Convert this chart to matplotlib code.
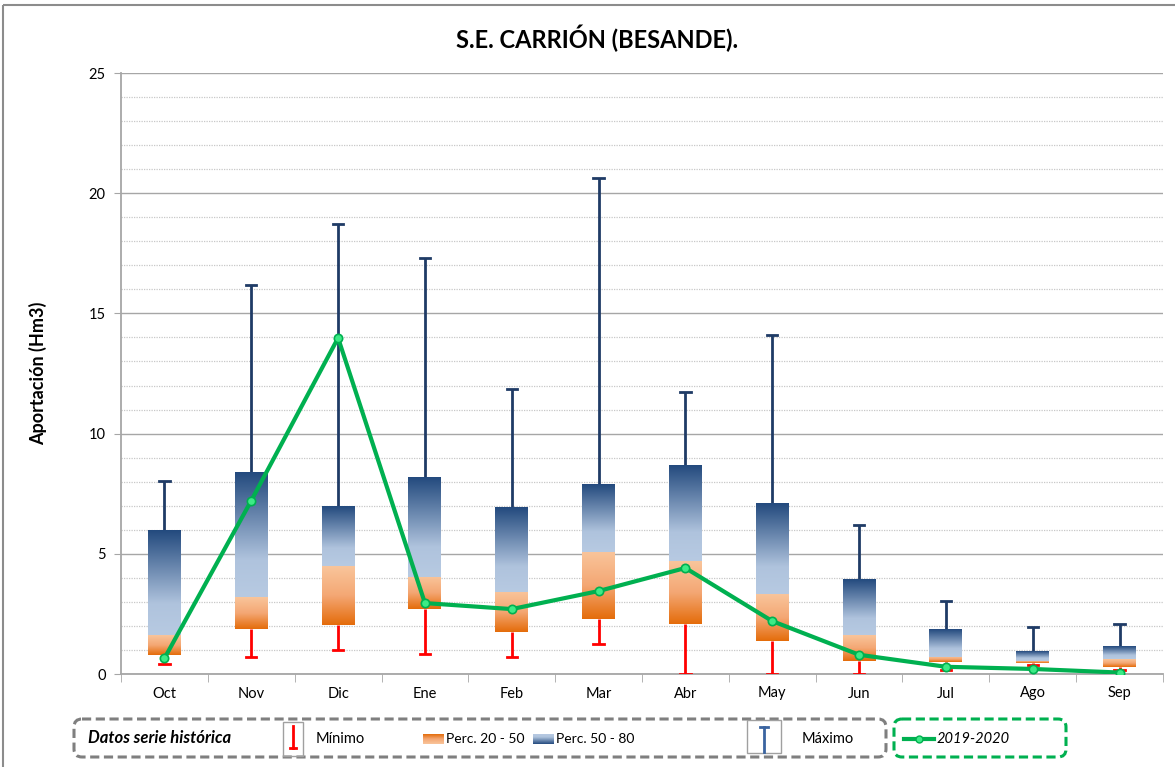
import numpy as np
import matplotlib.pyplot as plt
from matplotlib.colors import LinearSegmentedColormap
from matplotlib.patches import FancyBboxPatch, Rectangle
from matplotlib.lines import Line2D

plt.rcParams['font.family'] = ['Lato', 'DejaVu Sans']

meses = ["Oct", "Nov", "Dic", "Ene", "Feb", "Mar", "Abr", "May", "Jun", "Jul", "Ago", "Sep"]
minimo = [0.40, 0.69, 1.00, 0.85, 0.69, 1.25, 0.0, 0.0, 0.0, 0.17, 0.37, 0.17]
perc20 = [0.80, 1.86, 2.05, 2.69, 1.75, 2.30, 2.09, 1.39, 0.55, 0.50, 0.44, 0.29]
perc50 = [1.62, 3.19, 4.48, 4.03, 3.43, 5.09, 4.69, 3.33, 1.62, 0.72, 0.55, 0.62]
perc80 = [5.98, 8.37, 6.96, 8.17, 6.93, 7.89, 8.68, 7.10, 3.94, 1.87, 0.94, 1.12]
maximo = [8.04, 16.2, 18.72, 17.3, 11.86, 20.63, 11.73, 14.1, 6.18, 3.04, 1.96, 2.07]
serie_2019_2020 = [0.65, 7.21, 13.98, 2.95, 2.70, 3.45, 4.41, 2.20, 0.80, 0.30, 0.21, 0.06]

cmap_nar = LinearSegmentedColormap.from_list("nar", ["#E46C0A", "#F4A774", "#F9C59B"])
cmap_azul = LinearSegmentedColormap.from_list("azul", [(0, "#B7CAE2"), (0.3, "#AFC3DD"), (1, "#234A7E")])
grad = np.linspace(0, 1, 256).reshape(-1, 1)

fig = plt.figure(figsize=(11.75, 7.67), dpi=100)
ax = fig.add_axes([121 / 1175, 1 - 674 / 767, (1163 - 121) / 1175, (674 - 73) / 767])

x = np.arange(len(meses))
w = 0.38
cap = 0.06
for i in x:
    ax.plot([i, i], [perc20[i], minimo[i]], color="#FF0000", lw=2, zorder=3, solid_capstyle="butt")
    ax.plot([i - cap, i + cap], [minimo[i], minimo[i]], color="#FF0000", lw=2, zorder=3)
    ax.plot([i, i], [perc80[i], maximo[i]], color="#1F3B66", lw=2, zorder=3, solid_capstyle="butt")
    ax.plot([i - cap, i + cap], [maximo[i], maximo[i]], color="#1F3B66", lw=2, zorder=3)
    ax.imshow(grad, cmap=cmap_nar, origin="lower", aspect="auto", zorder=4,
              extent=[i - w / 2, i + w / 2, perc20[i], perc50[i]])
    ax.imshow(grad, cmap=cmap_azul, origin="lower", aspect="auto", zorder=4,
              extent=[i - w / 2, i + w / 2, perc50[i], perc80[i]])

ax.plot(x, serie_2019_2020, color="#00B050", lw=3, marker="o", ms=6,
        mfc="#3DEB86", mec="#00B050", mew=1.2, zorder=6)

ax.set_xlim(-0.5, len(meses) - 0.5)
ax.set_ylim(0, 25)
ax.set_yticks(range(0, 26, 5))
ax.set_yticks(range(0, 26), minor=True)
ax.set_xticks(x)
ax.set_xticklabels(meses, fontsize=10.5)
ax.set_xticks(np.arange(-0.5, len(meses)), minor=True)
ax.tick_params(axis="x", which="major", length=0, pad=9)
ax.tick_params(axis="x", which="minor", length=6, color="#A6A6A6")
ax.tick_params(axis="y", which="major", length=5, color="#A6A6A6", labelsize=10.5, pad=6)
ax.tick_params(axis="y", which="minor", length=0)
ax.grid(axis="y", which="major", color="#A6A6A6", lw=1)
ax.grid(axis="y", which="minor", color="#C8C8C8", lw=0.9, ls=(0, (1, 1)))
ax.set_axisbelow(True)
for s in ["top", "right"]:
    ax.spines[s].set_visible(False)
for s in ["left", "bottom"]:
    ax.spines[s].set_color("#A6A6A6")
    ax.spines[s].set_linewidth(1.3)
ax.set_ylabel("Aportación (Hm3)", fontsize=13, fontweight="bold", labelpad=30)

# capa superior en píxeles para título, marco y leyenda
lx = fig.add_axes([0, 0, 1, 1])
lx.set_xlim(0, 1175)
lx.set_ylim(767, 0)
lx.axis("off")
lx.patch.set_visible(False)
lx.add_patch(Rectangle((3, 5), 1180, 800, fill=False, ec="#8C8C8C", lw=1.5))
lx.text(597, 38, "S.E. CARRIÓN (BESANDE).", ha="center", va="center", fontsize=17, fontweight="bold")

lx.add_patch(FancyBboxPatch((74, 719), 812, 38, boxstyle="round,pad=0,rounding_size=8",
                            fill=False, ec="#7F7F7F", lw=2.2, ls=(0, (3, 1.5))))
lx.add_patch(FancyBboxPatch((894, 719), 172, 38, boxstyle="round,pad=0,rounding_size=8",
                            fill=False, ec="#00B050", lw=2.2, ls=(0, (3, 1.5))))
lx.text(88, 738, "Datos serie histórica", ha="left", va="center", fontsize=12,
        fontweight="bold", style="italic")
lx.add_patch(Rectangle((283, 722), 20, 34, fill=False, ec="#A0A0A0", lw=1))
lx.plot([293, 293], [726, 748], color="#FF0000", lw=2)
lx.plot([290, 296], [748, 748], color="#FF0000", lw=2)
lx.text(316, 739, "Mínimo", ha="left", va="center", fontsize=10.5)
lx.imshow(grad, cmap=cmap_nar, origin="upper", aspect="auto", extent=[423, 444, 744, 734], zorder=3)
lx.text(446, 739, "Perc. 20 - 50", ha="left", va="center", fontsize=10)
lx.imshow(grad, cmap=cmap_azul, origin="upper", aspect="auto", extent=[533, 554, 744, 734], zorder=3)
lx.text(556, 739, "Perc. 50 - 80", ha="left", va="center", fontsize=10)
lx.add_patch(Rectangle((747, 720), 34, 33, fill=False, ec="#A0A0A0", lw=1))
lx.plot([764, 764], [727, 752], color="#3A64A0", lw=2)
lx.plot([760, 768], [727, 727], color="#3A64A0", lw=2)
lx.text(802, 739, "Máximo", ha="left", va="center", fontsize=10.5)
lx.add_line(Line2D([904, 934], [739, 739], color="#00B050", lw=3))
lx.plot([919], [739], marker="o", ms=5, mfc="#3DEB86", mec="#00B050")
lx.text(937, 739, "2019-2020", ha="left", va="center", fontsize=10.5, style="italic")
lx.set_xlim(0, 1175)
lx.set_ylim(767, 0)

fig.savefig("out.png", dpi=100)
